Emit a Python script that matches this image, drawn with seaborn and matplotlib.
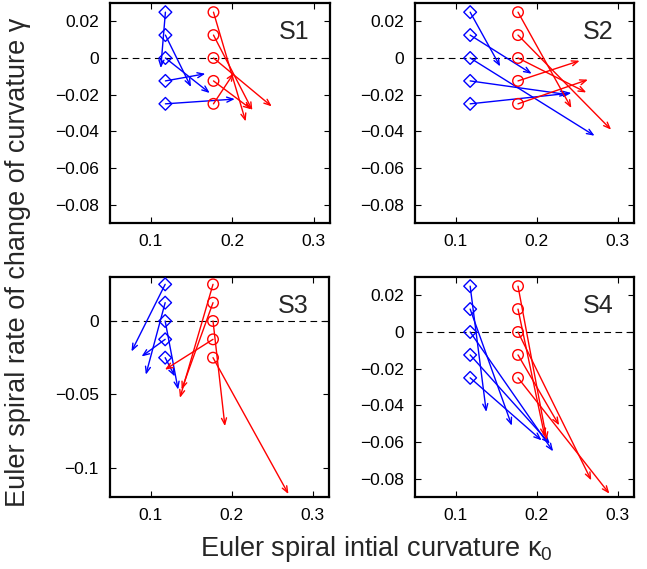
import matplotlib
matplotlib.use('Agg')
import matplotlib.pyplot as plt
import seaborn as sns
import pandas as pd
from matplotlib.ticker import FixedLocator, FuncFormatter

sns.set_style('ticks')
plt.rcParams['font.family'] = ['Liberation Sans', 'DejaVu Sans']
plt.rcParams['mathtext.fontset'] = 'custom'
plt.rcParams['mathtext.rm'] = 'Liberation Sans'
plt.rcParams['mathtext.it'] = 'Liberation Sans'
plt.rcParams['mathtext.default'] = 'regular'

# ---- data ----
panel_names = ['S1', 'S2', 'S3', 'S4']
start_y = [0.025, 0.0125, 0.0, -0.0125, -0.025]
blue_x0 = 0.118
red_x0 = 0.177

s1_blue_end_x = [0.1123, 0.1494, 0.1724, 0.1670, 0.2032]
s1_blue_end_y = [-0.0055, -0.0158, -0.0191, -0.0086, -0.0224]
s1_red_end_x = [0.2165, 0.2247, 0.2485, 0.2235, 0.2020]
s1_red_end_y = [-0.0346, -0.0285, -0.0264, -0.0280, -0.0082]

s2_blue_end_x = [0.1550, 0.1939, 0.2714, 0.2387, 0.2428]
s2_blue_end_y = [-0.0046, -0.0086, -0.0424, -0.0200, -0.0191]
s2_red_end_x = [0.2428, 0.2918, 0.2612, 0.2530, 0.2632]
s2_red_end_y = [-0.0273, -0.0391, -0.0188, -0.0015, -0.0118]

s3_blue_end_x = [0.0765, 0.0942, 0.1340, 0.0889, 0.1300]
s3_blue_end_y = [-0.0208, -0.0366, -0.0468, -0.0242, -0.0378]
s3_red_end_x = [0.1362, 0.1383, 0.1917, 0.1177, 0.2700]
s3_red_end_y = [-0.0524, -0.0468, -0.0717, -0.0332, -0.1180]

s4_blue_end_x = [0.1379, 0.1694, 0.2203, 0.2163, 0.2061]
s4_blue_end_y = [-0.0436, -0.0511, -0.0651, -0.0609, -0.0591]
s4_red_end_x = [0.2125, 0.2100, 0.2673, 0.2277, 0.2897]
s4_red_end_y = [-0.0590, -0.0570, -0.0809, -0.0509, -0.0882]

x_ticks = [0.1, 0.2, 0.3]
y_ticks_a = [0.02, 0.0, -0.02, -0.04, -0.06, -0.08]
y_ticks_b = [0.0, -0.05, -0.1]
ylim_a = (-0.09, 0.03)
ylim_b = (-0.12, 0.03)
xlim = (0.05, 0.32)

ends = {
    'S1': (s1_blue_end_x, s1_blue_end_y, s1_red_end_x, s1_red_end_y),
    'S2': (s2_blue_end_x, s2_blue_end_y, s2_red_end_x, s2_red_end_y),
    'S3': (s3_blue_end_x, s3_blue_end_y, s3_red_end_x, s3_red_end_y),
    'S4': (s4_blue_end_x, s4_blue_end_y, s4_red_end_x, s4_red_end_y),
}

W, H = 647, 569
fig = plt.figure(figsize=(W / 100, H / 100), dpi=100)
# axes rectangles in pixels (left, top, right, bottom)
rects = {
    'S1': (110, 3, 330, 223),
    'S2': (415, 3, 634, 223),
    'S3': (110, 277, 329, 497),
    'S4': (415, 277, 634, 497),
}

fmt = FuncFormatter(lambda v, p: ('%g' % v).replace('-', '\u2212'))

for name in panel_names:
    l, t, r, b = rects[name]
    ax = fig.add_axes([l / W, 1 - b / H, (r - l) / W, (b - t) / H])
    bx, by, rx, ry = ends[name]
    ax.axhline(0, color='k', lw=0.8, ls=(0, (6, 4)), zorder=1)
    for xe, ye, y0 in zip(bx, by, start_y):
        ax.annotate('', xy=(xe, ye), xytext=(blue_x0, y0),
                    arrowprops=dict(arrowstyle='->,head_length=0.45,head_width=0.18',
                                    color='blue', lw=1.0, shrinkA=0, shrinkB=0))
    for xe, ye, y0 in zip(rx, ry, start_y):
        ax.annotate('', xy=(xe, ye), xytext=(red_x0, y0),
                    arrowprops=dict(arrowstyle='->,head_length=0.45,head_width=0.18',
                                    color='red', lw=1.0, shrinkA=0, shrinkB=0))
    dfb = pd.DataFrame({'x': [blue_x0] * len(start_y), 'y': start_y})
    dfr = pd.DataFrame({'x': [red_x0] * len(start_y), 'y': start_y})
    sns.scatterplot(data=dfb, x='x', y='y', marker='D', s=42, facecolor='none',
                    edgecolor='blue', linewidth=1.0, ax=ax, zorder=3)
    sns.scatterplot(data=dfr, x='x', y='y', marker='o', s=58, facecolor='none',
                    edgecolor='red', linewidth=1.0, ax=ax, zorder=3)
    ax.set_xlabel('')
    ax.set_ylabel('')
    ax.set_xlim(*xlim)
    if name == 'S3':
        ax.set_ylim(*ylim_b)
        ax.yaxis.set_major_locator(FixedLocator(y_ticks_b))
    else:
        ax.set_ylim(*ylim_a)
        ax.yaxis.set_major_locator(FixedLocator(y_ticks_a))
    ax.xaxis.set_major_locator(FixedLocator(x_ticks))
    ax.xaxis.set_major_formatter(fmt)
    ax.yaxis.set_major_formatter(fmt)
    ax.tick_params(direction='in', top=True, right=True, length=4, width=0.8,
                   labelsize=12.5, pad=8, colors='k')
    for sp in ax.spines.values():
        sp.set_linewidth(1.6)
        sp.set_color('k')
        sp.set_visible(True)
    ax.text(0.835, 0.87, name, transform=ax.transAxes, ha='center', va='center',
            fontsize=18)

fig.text(200 / W, 1 - 556 / H, 'Euler spiral intial curvature $\\kappa_0$', ha='left',
         va='baseline', fontsize=19.5)
fig.text(0.028, 1 - 262 / H, 'Euler spiral rate of change of curvature \u03b3', ha='center',
         va='center', rotation=90, fontsize=19.5)

fig.savefig('out.png', dpi=100)
